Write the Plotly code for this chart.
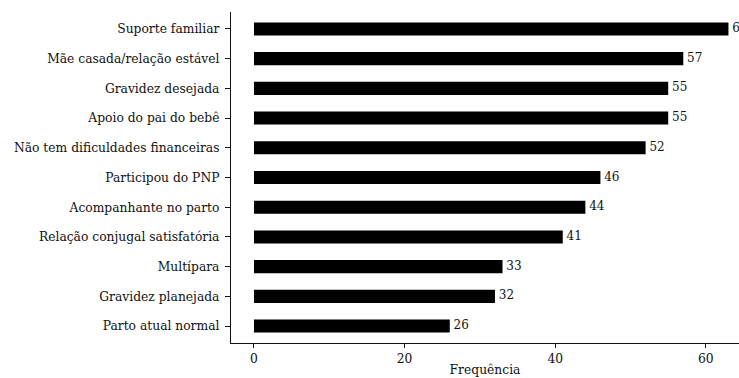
import plotly.graph_objects as go

categories = ["Suporte familiar", "Mãe casada/relação estável", "Gravidez desejada",
              "Apoio do pai do bebê", "Não tem dificuldades financeiras", "Participou do PNP",
              "Acompanhante no parto", "Relação conjugal satisfatória", "Multípara",
              "Gravidez planejada", "Parto atual normal"]
values = [63, 57, 55, 55, 52, 46, 44, 41, 33, 32, 26]

font_family = "DejaVu Serif"
ink = "#111"

fig = go.Figure()
fig.add_trace(go.Bar(
    x=values, y=categories, orientation="h",
    marker=dict(color="black", line=dict(width=0)),
    width=0.44, hoverinfo="x+y",
))
fig.add_trace(go.Scatter(
    x=values, y=categories, mode="text",
    text=[" " + str(v) for v in values], textposition="middle right",
    textfont=dict(family=font_family, size=12, color=ink),
    cliponaxis=False, hoverinfo="skip",
))

fig.update_layout(
    width=739, height=378,
    margin=dict(l=231, r=0, t=12, b=35, autoexpand=False),
    plot_bgcolor="white", paper_bgcolor="white",
    font=dict(family=font_family, size=12.3, color=ink),
    showlegend=False,
    xaxis=dict(range=[-3.05, 64.4], tickvals=[0, 20, 40, 60], showgrid=False, zeroline=False,
               automargin=False,
               showline=True, linecolor=ink, linewidth=1.2, ticks="outside", ticklen=4,
               tickcolor=ink, title=dict(text="Frequência", standoff=0,
                                         font=dict(family=font_family, size=12.3, color=ink))),
    yaxis=dict(autorange=False, range=[10.57, -0.57], showgrid=False, zeroline=False,
               automargin=False,
               showline=True, linecolor=ink, linewidth=1.2, ticks="outside", ticklen=5,
               tickcolor=ink, ticklabelstandoff=3),
)

# remove the default page margin so the figure fills the window exactly
fig.write_html("out.html", config={"displayModeBar": False},
               post_script="document.body.style.margin='0';document.body.style.overflow='hidden';")
